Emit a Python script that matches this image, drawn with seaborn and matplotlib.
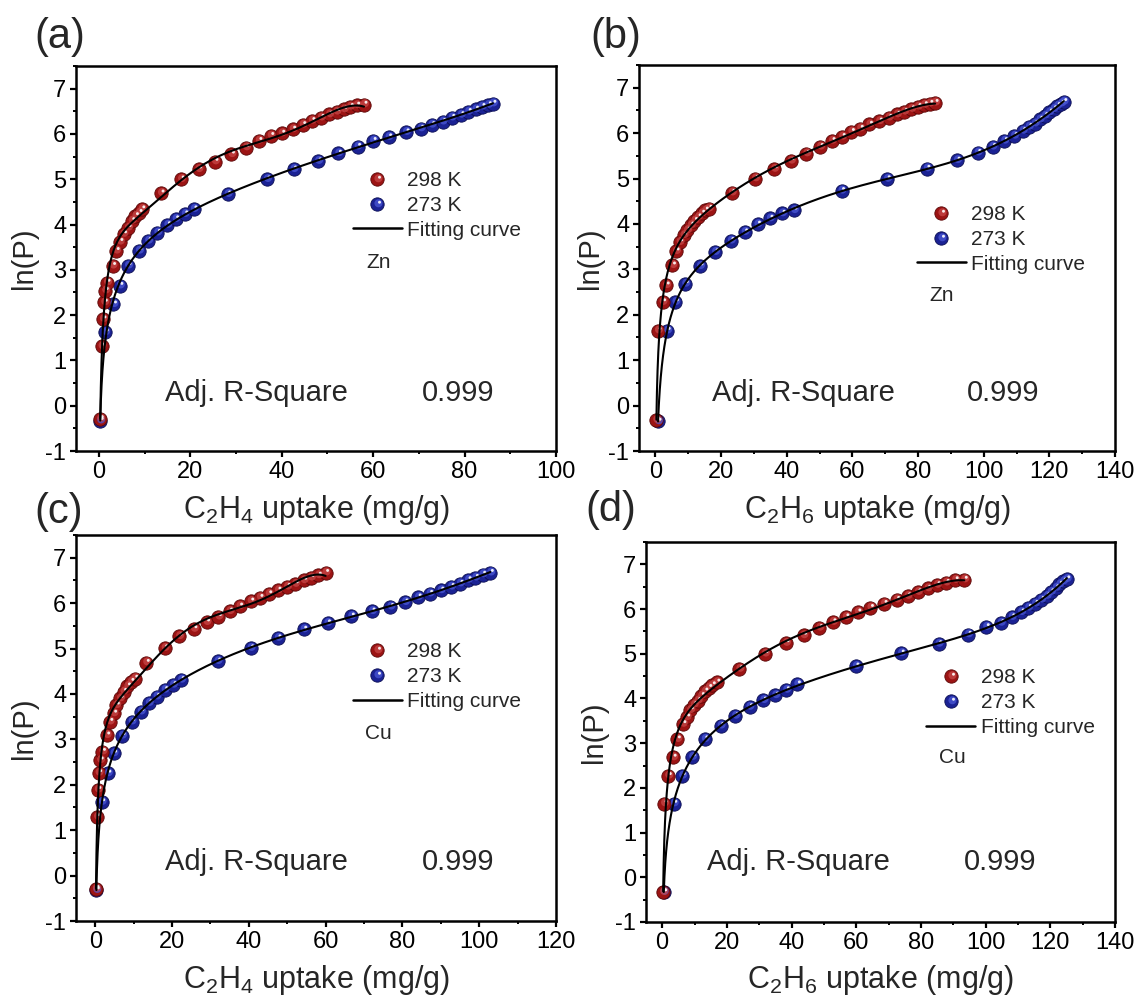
import numpy as np
import pandas as pd
import matplotlib
matplotlib.use("Agg")
import matplotlib.pyplot as plt
import seaborn as sns
from matplotlib.path import Path
from matplotlib.markers import MarkerStyle
from matplotlib.lines import Line2D
from matplotlib.legend_handler import HandlerTuple
from matplotlib.ticker import MultipleLocator

# ---------------- data ----------------
a_298_x = [0.3, 0.6, 0.9, 1.2, 1.4, 1.8, 3.0, 3.8, 4.6, 5.4, 6.4, 7.2, 8.0, 8.8, 9.4, 13.6, 18.0, 21.8,
           25.4, 29.0, 32.2, 35.0, 37.6, 40.0, 42.4, 44.6, 46.6, 48.6, 50.4, 52.0, 53.6, 55.0, 56.4, 58.0]
a_298_y = [-0.29, 1.31, 1.91, 2.28, 2.54, 2.72, 3.09, 3.42, 3.62, 3.79, 3.93, 4.08, 4.19, 4.26, 4.34, 4.69,
           5.00, 5.22, 5.39, 5.55, 5.70, 5.85, 5.96, 6.01, 6.10, 6.20, 6.29, 6.36, 6.43, 6.49, 6.54, 6.60,
           6.63, 6.65]
a_273_x = [0.3, 1.4, 3.2, 4.6, 6.4, 8.8, 10.8, 12.8, 15.0, 16.8, 18.8, 20.8, 28.2, 36.8, 42.6, 48.0, 52.4,
           56.6, 60.0, 63.4, 67.2, 70.4, 72.8, 75.2, 77.2, 79.2, 80.8, 82.4, 83.8, 85.2, 86.2]
a_273_y = [-0.33, 1.62, 2.24, 2.65, 3.09, 3.42, 3.64, 3.82, 3.99, 4.12, 4.23, 4.34, 4.67, 5.00, 5.22, 5.40,
           5.57, 5.72, 5.85, 5.93, 6.04, 6.12, 6.20, 6.27, 6.36, 6.42, 6.49, 6.54, 6.60, 6.64, 6.67]

b_298_x = [0.3, 0.8, 2.2, 3.3, 5.2, 6.3, 7.4, 8.6, 9.7, 10.8, 11.9, 13.0, 14.1, 15.2, 16.3, 23.3, 30.4, 36.2,
           41.3, 46.0, 50.2, 53.8, 56.9, 59.7, 62.4, 65.2, 68.2, 71.1, 73.6, 75.8, 78.0, 80.0, 81.9, 83.6, 85.2]
b_298_y = [-0.32, 1.65, 2.28, 2.65, 3.09, 3.40, 3.60, 3.75, 3.86, 3.97, 4.07, 4.15, 4.23, 4.30, 4.34, 4.69,
           5.00, 5.21, 5.39, 5.55, 5.70, 5.83, 5.92, 6.03, 6.10, 6.19, 6.26, 6.34, 6.41, 6.47, 6.53, 6.58,
           6.62, 6.65, 6.67]
b_273_x = [0.8, 3.6, 6.1, 9.1, 13.6, 18.2, 23.0, 27.2, 31.1, 34.9, 38.6, 42.2, 56.7, 70.6, 82.7, 91.9, 98.2,
           102.7, 106.3, 109.3, 111.9, 113.8, 115.6, 117.1, 118.6, 120.0, 121.3, 122.4, 123.6, 124.4]
b_273_y = [-0.35, 1.65, 2.28, 2.68, 3.07, 3.38, 3.63, 3.82, 3.99, 4.12, 4.23, 4.30, 4.73, 4.99, 5.22, 5.40,
           5.57, 5.70, 5.83, 5.94, 6.05, 6.14, 6.21, 6.30, 6.38, 6.46, 6.53, 6.60, 6.65, 6.69]

c_298_x = [0.2, 0.5, 0.7, 0.9, 1.3, 1.9, 3.0, 3.8, 4.8, 5.5, 6.5, 7.4, 8.4, 9.3, 10.3, 13.3, 18.1, 21.9, 25.7,
           29.0, 32.1, 35.0, 37.6, 40.5, 42.9, 45.2, 47.6, 50.0, 52.1, 54.3, 56.2, 58.1, 60.0]
c_298_y = [-0.29, 1.29, 1.89, 2.26, 2.54, 2.73, 3.09, 3.39, 3.57, 3.75, 3.90, 4.05, 4.17, 4.27, 4.34, 4.69,
           5.01, 5.27, 5.43, 5.58, 5.70, 5.82, 5.93, 6.04, 6.12, 6.20, 6.28, 6.36, 6.42, 6.50, 6.56, 6.61, 6.67]
c_273_x = [0.3, 1.7, 3.3, 4.8, 7.0, 9.5, 11.9, 14.0, 16.0, 18.1, 20.3, 22.4, 31.9, 40.5, 47.6, 54.3, 60.5,
           66.7, 72.1, 76.9, 80.7, 84.1, 87.1, 90.0, 92.7, 95.0, 97.1, 99.0, 100.9, 102.9]
c_273_y = [-0.32, 1.62, 2.25, 2.69, 3.08, 3.39, 3.61, 3.80, 3.94, 4.09, 4.20, 4.31, 4.72, 5.01, 5.23, 5.42,
           5.56, 5.71, 5.82, 5.92, 6.02, 6.13, 6.21, 6.28, 6.36, 6.43, 6.51, 6.56, 6.63, 6.67]

d_298_x = [0.3, 0.6, 1.9, 3.4, 4.7, 6.4, 7.6, 8.7, 9.8, 11.0, 12.1, 13.2, 14.4, 15.5, 16.9, 23.9, 31.8, 38.3,
           43.7, 48.6, 52.8, 56.8, 60.5, 64.4, 68.6, 72.5, 75.9, 79.1, 82.1, 85.0, 87.8, 90.6, 93.4]
d_298_y = [-0.33, 1.65, 2.27, 2.68, 3.09, 3.43, 3.58, 3.74, 3.86, 3.95, 4.06, 4.16, 4.24, 4.30, 4.36, 4.66,
           5.00, 5.24, 5.41, 5.58, 5.71, 5.82, 5.93, 6.03, 6.12, 6.21, 6.29, 6.38, 6.46, 6.54, 6.59, 6.65, 6.66]
d_273_x = [0.5, 3.6, 6.2, 9.3, 13.2, 18.1, 22.6, 27.0, 31.3, 35.0, 38.4, 41.8, 59.9, 73.9, 85.5, 94.6, 100.2,
           104.7, 108.1, 111.0, 113.2, 115.3, 117.2, 118.9, 120.2, 121.7, 122.8, 124.0, 125.1]
d_273_y = [-0.33, 1.65, 2.27, 2.69, 3.09, 3.39, 3.61, 3.81, 3.96, 4.07, 4.19, 4.32, 4.72, 5.01, 5.22, 5.43,
           5.60, 5.69, 5.82, 5.93, 6.03, 6.12, 6.21, 6.29, 6.38, 6.47, 6.55, 6.62, 6.67]

panel_letters = ["(a)", "(b)", "(c)", "(d)"]
gases = ["C$\\mathregular{_2}$H$\\mathregular{_4}$", "C$\\mathregular{_2}$H$\\mathregular{_6}$",
         "C$\\mathregular{_2}$H$\\mathregular{_4}$", "C$\\mathregular{_2}$H$\\mathregular{_6}$"]
metals = ["Zn", "Zn", "Cu", "Cu"]
x_max = [100, 140, 120, 140]
series_labels = ["298 K", "273 K", "Fitting curve"]
r2_label = "Adj. R-Square"
r2_value = "0.999"

# ---------------- style ----------------
sns.set_theme(style="ticks")
plt.rcParams.update({
    "font.family": ["Liberation Sans", "DejaVu Sans"],
    "mathtext.fontset": "custom",
    "mathtext.rm": "Liberation Sans",
    "axes.unicode_minus": False,
    "axes.linewidth": 1.8,
    "axes.edgecolor": "black",
    "xtick.color": "black", "ytick.color": "black",
    "xtick.direction": "out", "ytick.direction": "out",
    "xtick.major.size": 4.0, "ytick.major.size": 4.0,
    "xtick.minor.size": 2.2, "ytick.minor.size": 2.2,
    "xtick.major.width": 1.6, "ytick.major.width": 1.6,
    "xtick.minor.width": 1.4, "ytick.minor.width": 1.4,
    "xtick.labelsize": 17, "ytick.labelsize": 17,
    "xtick.major.pad": 3.5, "ytick.major.pad": 3.0,
})

RED = dict(base="#9c1414", edge="#5a0606", mid="#c84848")
BLUE = dict(base="#1b2294", edge="#0a0d52", mid="#4a58d6")
D = 9.6  # marker diameter (points)


def offset_circle(cx, cy, r):
    p = Path.circle((cx, cy), r)
    ext = np.max(np.abs(p.vertices))
    return MarkerStyle(p), (2 * ext * D) ** 2


MID_M, MID_S = offset_circle(0.07, 0.09, 0.30)
HL_M, HL_S = offset_circle(0.15, 0.17, 0.11)


def virial_fit(x, y, deg=5):
    x = np.asarray(x, float)
    y = np.asarray(y, float)
    s = x.max()
    w = np.ones_like(x)
    w[0] = 6.0
    A = np.column_stack([np.log(x)] + [(x / s) ** k for k in range(deg + 1)])
    coef, *_ = np.linalg.lstsq(A * w[:, None], y * w, rcond=None)
    xf = np.geomspace(x.min(), x.max(), 600)
    Af = np.column_stack([np.log(xf)] + [(xf / s) ** k for k in range(deg + 1)])
    return xf, Af @ coef


W, H = 1143, 1001
fig = plt.figure(figsize=(W / 100, H / 100), dpi=100)

# axes boxes in pixels: left, top, right, bottom
boxes = [(76, 66, 556, 451), (639, 65, 1115, 451), (76, 535, 556, 921), (646, 542, 1115, 922)]
letter_pos = [(34, 37), (590, 37), (34, 512), (585, 510)]
ylabel_x = [-0.108, -0.103, -0.108, -0.111]
leg_anchor = [(0.577, 0.727), (0.584, 0.637), (0.577, 0.722), (0.598, 0.668)]
metal_pos = [(0.604, 0.49), (0.611, 0.404), (0.602, 0.487), (0.624, 0.432)]
r2_pos = [(0.186, 0.72, 0.15), (0.153, 0.689, 0.15), (0.186, 0.72, 0.153), (0.13, 0.677, 0.158)]

data = [
    (a_298_x, a_298_y, a_273_x, a_273_y),
    (b_298_x, b_298_y, b_273_x, b_273_y),
    (c_298_x, c_298_y, c_273_x, c_273_y),
    (d_298_x, d_298_y, d_273_x, d_273_y),
]

for i, (x1, y1, x2, y2) in enumerate(data):
    l, t, r, b = boxes[i]
    ax = fig.add_axes([l / W, 1 - b / H, (r - l) / W, (b - t) / H])

    for xs, ys, col in [(x2, y2, BLUE), (x1, y1, RED)]:
        df = pd.DataFrame({"x": xs, "y": ys})
        sns.scatterplot(data=df, x="x", y="y", ax=ax, color=col["base"], edgecolor=col["edge"],
                        linewidth=0.6, s=D ** 2, marker="o", legend=False, zorder=2)
        sns.scatterplot(data=df, x="x", y="y", ax=ax, color=col["mid"], edgecolor="none",
                        linewidth=0, s=MID_S, marker=MID_M, alpha=0.75, legend=False, zorder=2.1)
        sns.scatterplot(data=df, x="x", y="y", ax=ax, color="white", edgecolor="none",
                        linewidth=0, s=HL_S, marker=HL_M, alpha=0.9, legend=False, zorder=2.2)
    for xs, ys in [(x1, y1), (x2, y2)]:
        xf, yf = virial_fit(xs, ys)
        sns.lineplot(x=xf, y=yf, ax=ax, color="black", lw=1.5, estimator=None, sort=False, zorder=3)

    ax.set_xlim(-5, x_max[i])
    ax.set_ylim(-1, 7.5)
    ax.xaxis.set_major_locator(MultipleLocator(20))
    ax.xaxis.set_minor_locator(MultipleLocator(10))
    ax.yaxis.set_major_locator(MultipleLocator(1))
    ax.yaxis.set_minor_locator(MultipleLocator(0.5))
    ax.tick_params(which="both", top=False, right=False)
    for sp in ax.spines.values():
        sp.set_visible(True)
        sp.set_linewidth(1.8)

    ax.set_xlabel(gases[i] + " uptake (mg/g)", fontsize=22, va="center")
    ax.xaxis.set_label_coords(0.5, -0.153)
    ax.set_ylabel("ln(P)", fontsize=21, va="center", ha="center")
    ax.yaxis.set_label_coords(ylabel_x[i], 0.5)

    def sphere(col):
        return (Line2D([], [], ls="", marker="o", ms=D, mfc=col["base"], mec=col["edge"], mew=0.6),
                Line2D([], [], ls="", marker=MID_M, ms=np.sqrt(MID_S), mfc=col["mid"], mec="none", alpha=0.75),
                Line2D([], [], ls="", marker=HL_M, ms=np.sqrt(HL_S), mfc="white", mec="none", alpha=0.9))

    handles = [sphere(RED), sphere(BLUE), Line2D([], [], color="black", lw=1.8)]
    ax.legend(handles, series_labels, handler_map={tuple: HandlerTuple(ndivide=1)},
              loc="upper left", bbox_to_anchor=leg_anchor[i], frameon=False, fontsize=15,
              borderpad=0, borderaxespad=0, handlelength=2.35, handletextpad=0.25,
              labelspacing=0.28)
    ax.text(metal_pos[i][0], metal_pos[i][1], metals[i], transform=ax.transAxes,
            fontsize=15, ha="left", va="center")
    ax.text(r2_pos[i][0], r2_pos[i][2], r2_label, transform=ax.transAxes, fontsize=21,
            ha="left", va="center")
    ax.text(r2_pos[i][1], r2_pos[i][2], r2_value, transform=ax.transAxes, fontsize=21,
            ha="left", va="center")

    lx, ly = letter_pos[i]
    fig.text(lx / W, 1 - ly / H, panel_letters[i], fontsize=30, ha="left", va="center")

fig.savefig("out.png", dpi=100, facecolor="white")
